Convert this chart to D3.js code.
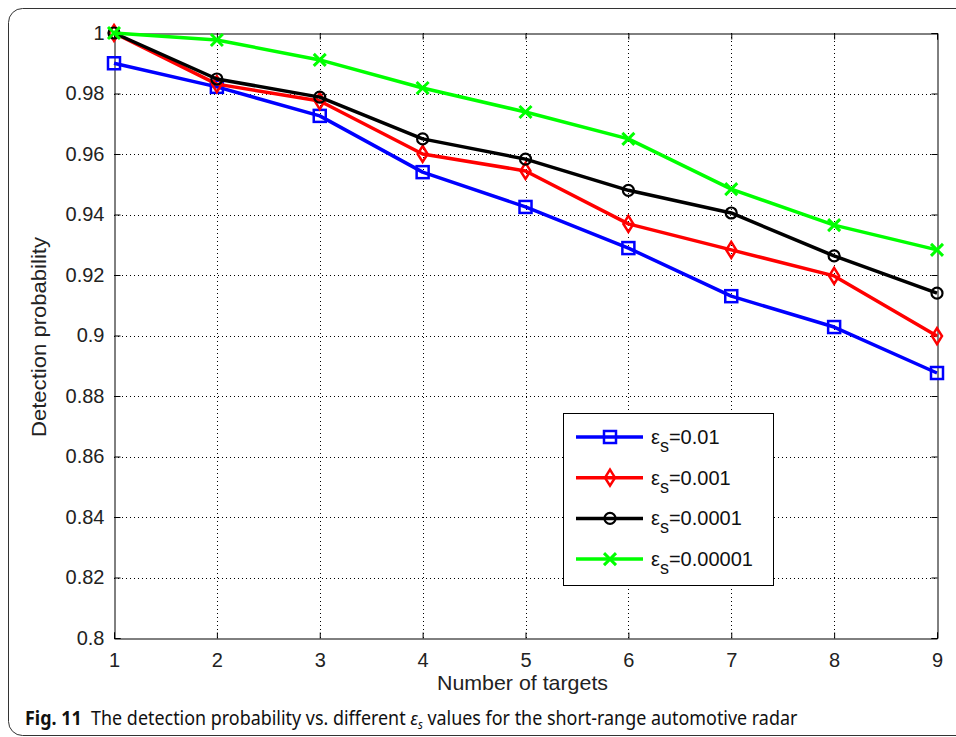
<!DOCTYPE html>
<html>
<head>
<meta charset="utf-8">
<script src="https://cdn.jsdelivr.net/npm/d3@7"></script>
<style>
  body { margin: 0; background: #fff; }
  svg { display: block; }
</style>
</head>
<body>
<svg></svg>
<script>
let targets = [1, 2, 3, 4, 5, 6, 7, 8, 9]
let seriesNames = ['0.01', '0.001', '0.0001', '0.00001']
let eps001 = [0.990, 0.9822, 0.9726, 0.954, 0.9425, 0.9289, 0.913, 0.9028, 0.8876]
let eps0001 = [1.0, 0.9831, 0.9775, 0.960, 0.9544, 0.9369, 0.9283, 0.9197, 0.8998]
let eps00001 = [1.0, 0.9848, 0.9788, 0.965, 0.9583, 0.948, 0.9405, 0.9263, 0.914]
let eps000001 = [1.0, 0.9977, 0.9911, 0.9818, 0.9739, 0.965, 0.9484, 0.9365, 0.9283]
let yTicks = [0.8, 0.82, 0.84, 0.86, 0.88, 0.9, 0.92, 0.94, 0.96, 0.98, 1]
let yTickLabels = ['0.8', '0.82', '0.84', '0.86', '0.88', '0.9', '0.92', '0.94', '0.96', '0.98', '1']

let width = 956
let height = 737
let plotLeft = 114, plotRight = 937, plotTop = 33, plotBottom = 638

let colors = ['#0000ff', '#ff0000', '#000000', '#00ff00']
let markers = ['square', 'diamond', 'circle', 'cross']
let allSeries = [eps001, eps0001, eps00001, eps000001]
let font = 'Liberation Sans, Arial, sans-serif'

let svg = d3.select('svg').attr('width', width).attr('height', height)

// rounded frame of the figure
svg.append('rect')
   .attr('x', 8.5).attr('y', 8.5)
   .attr('width', 970).attr('height', 727)
   .attr('rx', 14)
   .attr('fill', 'none')
   .attr('stroke', '#333')
   .attr('stroke-width', 1)

let xScale = d3.scaleLinear().domain([1, 9]).range([plotLeft, plotRight])
let yScale = d3.scaleLinear().domain([0.8, 1]).range([plotBottom, plotTop])

// grid
let grid = svg.append('g')
grid.selectAll('.vg')
    .data(targets.slice(1, -1))
    .enter().append('line')
    .attr('x1', d => Math.round(xScale(d)) + 0.5).attr('x2', d => Math.round(xScale(d)) + 0.5)
    .attr('y1', plotTop).attr('y2', plotBottom)
    .attr('stroke', '#000').attr('stroke-width', 1)
    .attr('stroke-dasharray', '1,3')
grid.selectAll('.hg')
    .data(yTicks.slice(1, -1))
    .enter().append('line')
    .attr('y1', d => Math.round(yScale(d)) + 0.5).attr('y2', d => Math.round(yScale(d)) + 0.5)
    .attr('x1', plotLeft).attr('x2', plotRight)
    .attr('stroke', '#000').attr('stroke-width', 1)
    .attr('stroke-dasharray', '1,3')

// axes (matlab-like inward ticks)
let xAxis = d3.axisBottom(xScale).tickValues(targets).tickSize(-6).tickPadding(14).tickFormat(d3.format('d'))
let gx = svg.append('g')
   .attr('transform', 'translate(0,' + (plotBottom + 0.5) + ')')
   .call(xAxis)
let yAxis = d3.axisLeft(yScale).tickValues(yTicks).tickSize(-6).tickPadding(10)
   .tickFormat((d, i) => yTickLabels[i])
let gy = svg.append('g')
   .attr('transform', 'translate(' + (plotLeft + 0.5) + ',0)')
   .call(yAxis)
let gx2 = svg.append('g')
   .attr('transform', 'translate(0,' + (plotTop + 0.5) + ')')
   .call(d3.axisTop(xScale).tickValues(targets).tickSize(-6).tickFormat(''))
let gy2 = svg.append('g')
   .attr('transform', 'translate(' + (plotRight + 0.5) + ',0)')
   .call(d3.axisRight(yScale).tickValues(yTicks).tickSize(-6).tickFormat(''))

for (let g of [gx, gy, gx2, gy2]) {
    g.select('.domain').attr('stroke', '#000')
    g.selectAll('.tick line').attr('stroke', '#000')
    g.selectAll('text')
     .attr('font-family', font)
     .attr('font-size', 20)
     .attr('fill', '#222')
}

// lines
let line = d3.line()
    .x((d, i) => xScale(targets[i]))
    .y(d => yScale(d))

let drawMarker = (g, type, x, y, color) => {
    if (type === 'square') {
        g.append('rect').attr('x', x - 6).attr('y', y - 6).attr('width', 12).attr('height', 12)
         .attr('fill', 'none').attr('stroke', color).attr('stroke-width', 2.5)
    } else if (type === 'diamond') {
        g.append('path').attr('d', `M${x},${y - 8}L${x + 5},${y}L${x},${y + 8}L${x - 5},${y}Z`)
         .attr('fill', 'none').attr('stroke', color).attr('stroke-width', 2.5)
    } else if (type === 'circle') {
        g.append('circle').attr('cx', x).attr('cy', y).attr('r', 5.5)
         .attr('fill', 'none').attr('stroke', color).attr('stroke-width', 2.2)
    } else {
        g.append('path').attr('d', `M${x - 6},${y - 6}L${x + 6},${y + 6}M${x - 6},${y + 6}L${x + 6},${y - 6}`)
         .attr('stroke', color).attr('stroke-width', 3)
    }
}

allSeries.forEach((values, s) => {
    let g = svg.append('g')
    g.append('path')
     .datum(values)
     .attr('d', line)
     .attr('fill', 'none')
     .attr('stroke', colors[s])
     .attr('stroke-width', 3.5)
     .attr('stroke-linejoin', 'round')
    values.forEach((v, i) => drawMarker(g, markers[s], xScale(targets[i]), yScale(v), colors[s]))
})

// legend
let legend = svg.append('g')
legend.append('rect')
      .attr('x', 563.5).attr('y', 413.5).attr('width', 210).attr('height', 172)
      .attr('fill', '#fff').attr('stroke', '#000').attr('stroke-width', 1)
seriesNames.forEach((name, s) => {
    let y = 437 + s * 40.7
    legend.append('line').attr('x1', 576).attr('x2', 643).attr('y1', y).attr('y2', y)
          .attr('stroke', colors[s]).attr('stroke-width', 3.5)
    drawMarker(legend, markers[s], 610, y, colors[s])
    let t = legend.append('text')
          .attr('x', 651).attr('y', y + 7)
          .attr('font-family', font)
          .attr('font-size', 20)
          .attr('fill', '#111')
    t.append('tspan').text('ε')
    t.append('tspan').attr('dy', 8).attr('font-size', 18).text('s')
    t.append('tspan').attr('dy', -8).text('=' + name)
})

// axis labels
svg.append('text')
   .attr('x', 437).attr('y', 690)
   .attr('font-family', font)
   .attr('font-size', 21)
   .attr('fill', '#222')
   .attr('textLength', 171)
   .attr('lengthAdjust', 'spacingAndGlyphs')
   .text('Number of targets')
svg.append('text')
   .attr('transform', 'translate(46,437) rotate(-90)')
   .attr('font-family', font)
   .attr('font-size', 21)
   .attr('fill', '#222')
   .attr('textLength', 200)
   .attr('lengthAdjust', 'spacingAndGlyphs')
   .text('Detection probability')

// caption
let cap = svg.append('text')
   .attr('y', 725)
   .attr('font-family', 'Noto Sans, sans-serif')
   .attr('font-size', 19)
   .attr('fill', '#111')
cap.append('tspan').attr('font-weight', 'bold').text('Fig. 11')
cap.append('tspan').attr('dx', 10).text('The detection probability vs. different ')
cap.append('tspan').attr('font-style', 'italic').text('ε')
cap.append('tspan').attr('font-style', 'italic').attr('font-size', 12).attr('dy', 4).text('s')
cap.append('tspan').attr('dy', -4).text(' values for the short-range automotive radar')
let capW = cap.node().getBBox().width
cap.attr('transform', 'translate(25,0) scale(' + (773 / capW) + ',1)')
</script>
</body>
</html>
